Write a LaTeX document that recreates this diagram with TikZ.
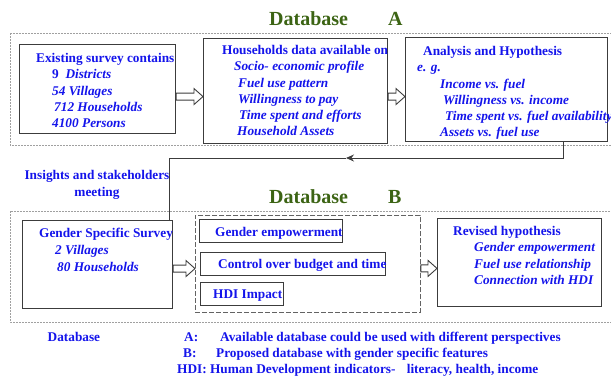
\documentclass[tikz,border=0pt]{standalone}
\usepackage{fontspec}
\setmainfont{Liberation Serif}
\usetikzlibrary{calc, arrows.meta}
\definecolor{textblue}{RGB}{20, 20, 235}
\definecolor{titlegreen}{RGB}{60, 100, 20}
\definecolor{boxgray}{RGB}{60, 60, 60}
\definecolor{framegray}{RGB}{160, 160, 160}

\newcommand{\hollowarrow}[2]{%
  \draw[blockarr] let \p1=(#1), \p2=(#2) in
    (\x1,\y1+3.5pt) -- (\x2-9pt,\y1+3.5pt) -- (\x2-9pt,\y1+8pt) -- (\x2,\y1)
    -- (\x2-9pt,\y1-8pt) -- (\x2-9pt,\y1-3.5pt) -- (\x1,\y1-3.5pt) -- cycle;}

\begin{document}
\begin{tikzpicture}[
    x=1pt, y=-1pt,
    box/.style={rectangle, draw=boxgray, line width=1.1pt, anchor=north west, inner sep=0pt},
    txt/.style={text=textblue, font=\fontsize{13.3}{16.3}\selectfont\bfseries,
                align=left, inner sep=0pt, anchor=north west},
    note/.style={text=textblue, font=\fontsize{13.3}{16.3}\selectfont\bfseries,
                 inner sep=0pt, anchor=base west},
    title/.style={text=titlegreen, font=\fontsize{20}{24}\selectfont\bfseries,
                  inner sep=0pt, anchor=base west},
    outer/.style={draw=framegray, line width=0.6pt, dash pattern=on 2pt off 1pt},
    inner/.style={rectangle, draw=boxgray!80, line width=0.8pt, dash pattern=on 5pt off 2pt,
                  anchor=north west, inner sep=0pt},
    link/.style={draw=boxgray, line width=1pt},
    blockarr/.style={draw=boxgray, line width=0.9pt, fill=white}
]
\clip (0,0) rectangle (611,376);

\node[title] (tA)  at (269,25) {Database};
\node[title] (tA2) at (388,25) {A};
\draw[outer] (10,33) rectangle (625,145);

\node[box, minimum width=156pt, minimum height=89pt]  (a1) at (19,44)  {};
\node[box, minimum width=184pt, minimum height=105pt] (a2) at (203,38) {};
\node[box, minimum width=202pt, minimum height=104pt] (a3) at (405,37) {};

\node[txt] (a1t) at (36,53) {Existing survey contains\\
  \hspace*{16pt}9 \textit{ Districts}\\
  \hspace*{16pt}\textit{54 Villages}\\
  \hspace*{18pt}\textit{712 Households}\\
  \hspace*{16pt}\textit{4100 Persons}};
\node[txt] (a2t) at (222,45) {Households data available on\\
  \hspace*{12pt}\textit{Socio- economic profile}\\
  \hspace*{16pt}\textit{Fuel use pattern}\\
  \hspace*{16pt}\textit{Willingness to pay}\\
  \hspace*{17pt}\textit{Time spent and efforts}\\
  \hspace*{15pt}\textit{Household Assets}};
\node[txt] (a3t) at (417,46) {\hspace*{6pt}Analysis and Hypothesis\\
  \textit{e. g.}\\
  \hspace*{23pt}\textit{Income vs. fuel}\\
  \hspace*{26pt}\textit{Willingness vs. income}\\
  \hspace*{28pt}\textit{Time spent vs. fuel availability}\\
  \hspace*{23pt}\textit{Assets vs. fuel use}};

\hollowarrow{$(a1.east)+(0,7.5)$}{$(a1.east -| a2.west)+(0,7.5)$}
\hollowarrow{$(a2.east)+(0,5.5)$}{$(a2.east -| a3.west)+(0,5.5)$}

\node[txt, align=center, anchor=north] (ins) at (97,170.5) {Insights and stakeholders\\meeting};

\node[title] (tB)  at (269,203) {Database};
\node[title] (tB2) at (388,203) {B};
\draw[outer] (10,211) rectangle (625,322);

\node[box, minimum width=150pt, minimum height=88pt] (gss) at (22,220) {};
\node[inner, minimum width=225pt, minimum height=97pt] (imp) at (195,215) {};
\node[box, minimum width=143pt, minimum height=23pt] (ge)  at (199,219) {};
\node[box, minimum width=185pt, minimum height=23pt] (cb)  at (200,252) {};
\node[box, minimum width=83pt,  minimum height=23pt] (hdi) at (200,282) {};
\node[box, minimum width=164pt, minimum height=88pt] (rev) at (437,218) {};

\node[txt] (gsst) at (39,228) {Gender Specific Survey\\[0.7pt]
  \hspace*{16pt}\textit{2 Villages}\\[0.7pt]
  \hspace*{18pt}\textit{80 Households}};
\node[txt] (get)  at (215,227) {Gender empowerment};
\node[txt] (cbt)  at (218,259) {Control over budget and time};
\node[txt] (hdit) at (213,290) {HDI Impact};
\node[txt] (revt) at (453,226) {Revised hypothesis\\
  \hspace*{21pt}\textit{Gender empowerment}\\
  \hspace*{21pt}\textit{Fuel use relationship}\\
  \hspace*{21pt}\textit{Connection with HDI}};

\hollowarrow{$(gss.east)+(0,4)$}{$(gss.east -| imp.west)+(0,4)$}
\hollowarrow{$(imp.east)+(0,4.5)$}{$(imp.east -| rev.west)+(0,4.5)$}

\coordinate (drop) at ($(a3.south west)+(158,0)$);
\coordinate (turn) at (346,158);
\draw[link, -{Stealth[length=8pt, width=7pt]}] (drop) |- (turn);
\draw[link] (turn) -| ($(gss.north east)+(-4,0)$);

\node[note] (ky)  at (47.5,341.5) {Database};
\node[note] (kA)  at (184,341.5)  {A:};
\node[note] (kAt) at (220,341.5)  {Available database could be used with different perspectives};
\node[note] (kB)  at (183,357.5)  {B:};
\node[note] (kBt) at (216,357.5)  {Proposed database with gender specific features};
\node[note] (kH)  at (177,373.5)  {HDI: Human Development indicators-\hspace{8pt} literacy, health, income};
\end{tikzpicture}
\end{document}
